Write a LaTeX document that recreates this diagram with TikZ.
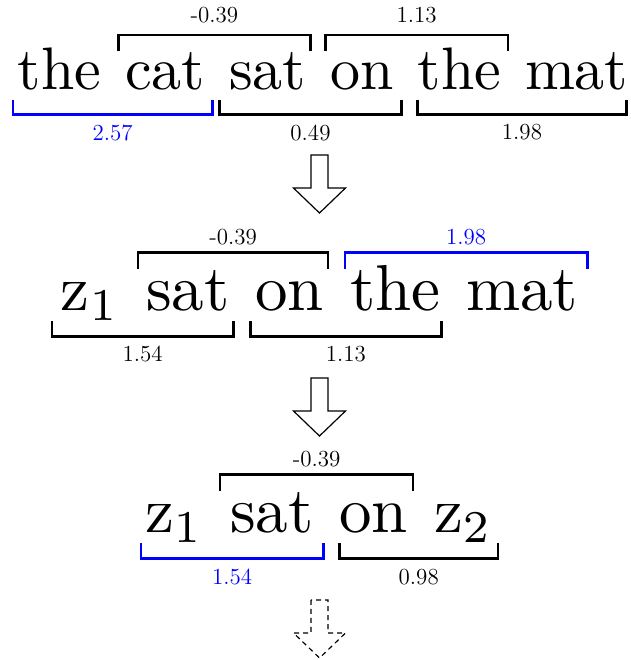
\documentclass[tikz,border=0pt]{standalone}
\usetikzlibrary{positioning}

% words are set at 10pt and blown up, so they keep the 10pt letter shapes
\newcommand{\wsm}[1]{\scalebox{3}{#1}}
\newcommand{\wbg}[1]{\scalebox{3.25}{#1}}

\begin{document}
\begin{tikzpicture}[
    x=0.5pt, y=0.5pt,
    word/.style={inner sep=0pt, outer sep=0pt, text height=21.1pt, text depth=5.2pt,
                 font=\fontsize{10}{12}\selectfont},
    wordsm/.style={word, text height=19.5pt, text depth=4.8pt},
    brk/.style={line width=1.4pt},
    lbl/.style={font=\fontsize{11.5}{13}\selectfont},
    blockarr/.style={line width=0.6pt, line join=miter}
]
\useasboundingbox (0,0) rectangle (631,660);

% first sentence
\node[wordsm, anchor=base west] (r1the) at (18,570) {\wsm{the}};
\node[wordsm, base right=12pt of r1the] (r1cat) {\wsm{cat}};
\node[wordsm, base right=12pt of r1cat] (r1sat) {\wsm{sat}};
\node[wordsm, base right=12pt of r1sat] (r1on) {\wsm{on}};
\node[wordsm, base right=12pt of r1on] (r1the2) {\wsm{the}};
\node[wordsm, base right=12pt of r1the2] (r1mat) {\wsm{mat}};

\draw[brk] ([xshift=-3.5pt]r1cat.north west) -- ++(0,16) -| node[lbl, pos=0.25, above=2pt] {-0.39} ([xshift=2pt]r1sat.north east);
\draw[brk] ([xshift=-2.5pt]r1on.north west) -- ++(0,16) -| node[lbl, pos=0.25, above=2pt] {1.13} ([xshift=3.5pt]r1the2.north east);
\draw[brk, blue] ([xshift=-2.5pt]r1the.south west) -- ++(0,-15) -| node[lbl, pos=0.25, below=1pt] {2.57} ([xshift=3.5pt]r1cat.south east);
\draw[brk] ([xshift=-5pt]r1sat.south west) -- ++(0,-15) -| node[lbl, pos=0.25, below=1pt] {0.49} ([xshift=4pt]r1on.south east);
\draw[brk] (r1the2.south west) -- ++(0,-15) -| node[lbl, pos=0.25, below=1pt] {1.98} ([xshift=-1pt]r1mat.south east);

\coordinate (arr1) at (319.5,505);
\draw[blockarr] (arr1) ++(-8.5,0) -- ++(0,-33) -- ++(-17.5,0) -- ++(26,-25) -- ++(26,25) -- ++(-17.5,0) -- ++(0,33) -- cycle;

% second sentence
\node[word, anchor=base west] (r2z) at (61,349) {\wbg{z$_1$}};
\node[word, base right=13.5pt of r2z] (r2sat) {\wbg{sat}};
\node[word, base right=13pt of r2sat] (r2on) {\wbg{on}};
\node[word, base right=13pt of r2on] (r2the) {\wbg{the}};
\node[word, base right=13pt of r2the] (r2mat) {\wbg{mat}};

\draw[brk] ([xshift=-4pt]r2sat.north west) -- ++(0,16) -| node[lbl, pos=0.25, above=0pt] {-0.39} ([xshift=2pt]r2on.north east);
\draw[brk, blue] ([xshift=-2.5pt]r2the.north west) -- ++(0,16) -| node[lbl, pos=0.25, above=0pt] {1.98} ([xshift=4.5pt]r2mat.north east);
\draw[brk] ([xshift=-4.5pt]r2z.south west) -- ++(0,-15) -| node[lbl, pos=0.25, below=1pt] {1.54} ([xshift=2pt]r2sat.south east);
\draw[brk] ([xshift=-2.5pt]r2on.south west) -- ++(0,-15) -| node[lbl, pos=0.25, below=1pt] {1.13} ([xshift=0.5pt]r2the.south east);

\coordinate (arr2) at (319.5,282);
\draw[blockarr] (arr2) ++(-8.5,0) -- ++(0,-33) -- ++(-17.5,0) -- ++(26,-25) -- ++(26,25) -- ++(-17.5,0) -- ++(0,33) -- cycle;

% third sentence
\node[word, anchor=base west] (r3z) at (145,127) {\wbg{z$_1$}};
\node[word, base right=13.5pt of r3z] (r3sat) {\wbg{sat}};
\node[word, base right=13pt of r3sat] (r3on) {\wbg{on}};
\node[word, base right=13pt of r3on] (r3zz) {\wbg{z$_2$}};

\draw[brk] ([xshift=-5pt]r3sat.north west) -- ++(0,16) -| node[lbl, pos=0.25, above=0pt] {-0.39} ([xshift=2.5pt]r3on.north east);
\draw[brk, blue] ([xshift=-2pt]r3z.south west) -- ++(0,-15) -| node[lbl, pos=0.25, below=1.5pt] {1.54} ([xshift=5pt]r3sat.south east);
\draw[brk] (r3on.south west) -- ++(0,-15) -| node[lbl, pos=0.25, below=1.5pt] {0.98} ([xshift=3pt]r3zz.south east);

\coordinate (arr3) at (319.5,60);
\draw[blockarr, dash pattern=on 2.5pt off 2pt] (arr3) ++(-8.5,0) -- ++(0,-33) -- ++(-17.5,0) -- ++(26,-25) -- ++(26,25) -- ++(-17.5,0) -- ++(0,33) -- cycle;
\end{tikzpicture}
\end{document}
